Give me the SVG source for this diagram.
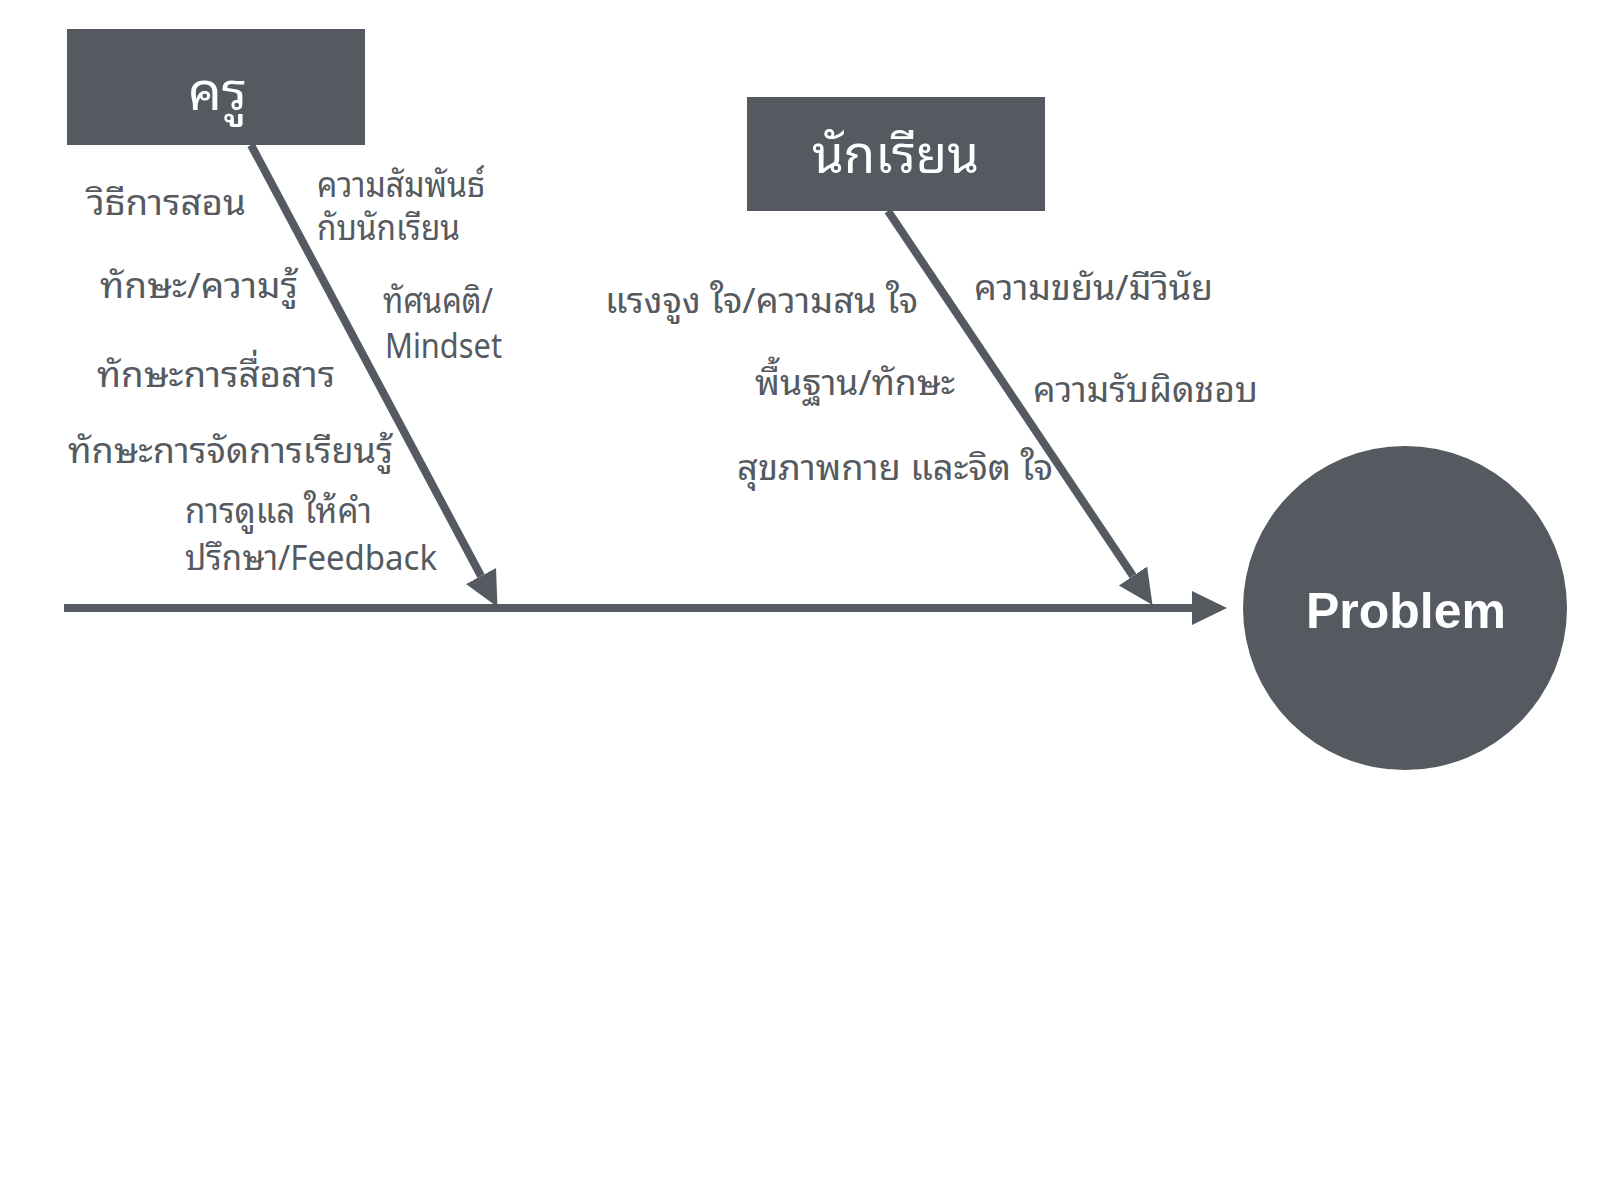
<svg xmlns="http://www.w3.org/2000/svg" width="1608" height="1204" viewBox="0 0 1608 1204">
<style>
.box{fill:#555a61}
.head{fill:#ffffff;font-family:"Noto Sans","Noto Sans Thai Looped","Noto Serif Thai","Noto Sans Thai",sans-serif;font-size:52px}
.lbl{fill:#555a61;font-family:"Noto Sans","Noto Sans Thai Looped","Noto Serif Thai","Noto Sans Thai",sans-serif;font-size:35px}
.bone{stroke:#555a61;stroke-width:8;fill:none}
.prob{fill:#ffffff;font-family:"Liberation Sans",Arial,sans-serif;font-weight:bold;font-size:50px;text-anchor:middle}
</style>
<defs>
<marker id="ah" markerUnits="userSpaceOnUse" markerWidth="40" markerHeight="40" viewBox="0 -20 40 40" refX="0" refY="0" orient="auto">
<path d="M0,-17 L35,0 L0,17 Z" fill="#555a61"/>
</marker>
</defs>
<rect width="1608" height="1204" fill="#ffffff"/>
<g id="connectors">
<line class="bone" x1="64" y1="608" x2="1192" y2="608" marker-end="url(#ah)"/>
<line class="bone" x1="251" y1="145" x2="481" y2="576" marker-end="url(#ah)"/>
<line class="bone" x1="888" y1="211" x2="1133" y2="576" marker-end="url(#ah)"/>
</g>
<g id="node-teacher">
<rect class="box" x="67" y="29" width="298" height="116"/>
<text class="head" x="188" y="110" textLength="59" lengthAdjust="spacingAndGlyphs">ครู</text>
</g>
<g id="node-student">
<rect class="box" x="747" y="97" width="298" height="114"/>
<text class="head" x="812" y="173" textLength="167" lengthAdjust="spacingAndGlyphs">นักเรียน</text>
</g>
<g id="node-problem">
<circle cx="1405" cy="608" r="162" fill="#555a61"/>
<text class="prob" x="1406" y="628">Problem</text>
</g>
<g id="labels-teacher">
<text class="lbl" x="87" y="215" textLength="159" lengthAdjust="spacingAndGlyphs">วิธีการสอน</text>
<text class="lbl" x="317" y="197" textLength="168" lengthAdjust="spacingAndGlyphs">ความสัมพันธ์</text>
<text class="lbl" x="317" y="240" textLength="143" lengthAdjust="spacingAndGlyphs">กับนักเรียน</text>
<text class="lbl" x="100" y="298" textLength="198" lengthAdjust="spacingAndGlyphs">ทักษะ/ความรู้</text>
<text class="lbl" x="383" y="313" textLength="110" lengthAdjust="spacingAndGlyphs">ทัศนคติ/</text>
<text class="lbl" x="385" y="358" textLength="117" lengthAdjust="spacingAndGlyphs">Mindset</text>
<text class="lbl" x="97" y="387" textLength="238" lengthAdjust="spacingAndGlyphs">ทักษะการสื่อสาร</text>
<text class="lbl" x="68" y="463" textLength="325" lengthAdjust="spacingAndGlyphs">ทักษะการจัดการเรียนรู้</text>
<text class="lbl" x="185" y="523" textLength="187" lengthAdjust="spacingAndGlyphs">การดูแล ให้คำ</text>
<text class="lbl" x="185" y="570" textLength="252" lengthAdjust="spacingAndGlyphs">ปรึกษา/Feedback</text>
</g>
<g id="labels-student">
<text class="lbl" x="605" y="313" textLength="313" lengthAdjust="spacingAndGlyphs">แรงจูง ใจ/ความสน ใจ</text>
<text class="lbl" x="974" y="300" textLength="239" lengthAdjust="spacingAndGlyphs">ความขยัน/มีวินัย</text>
<text class="lbl" x="755" y="395" textLength="200" lengthAdjust="spacingAndGlyphs">พื้นฐาน/ทักษะ</text>
<text class="lbl" x="1033" y="402" textLength="225" lengthAdjust="spacingAndGlyphs">ความรับผิดชอบ</text>
<text class="lbl" x="737" y="480" textLength="316" lengthAdjust="spacingAndGlyphs">สุขภาพกาย และจิต ใจ</text>
</g>
</svg>
